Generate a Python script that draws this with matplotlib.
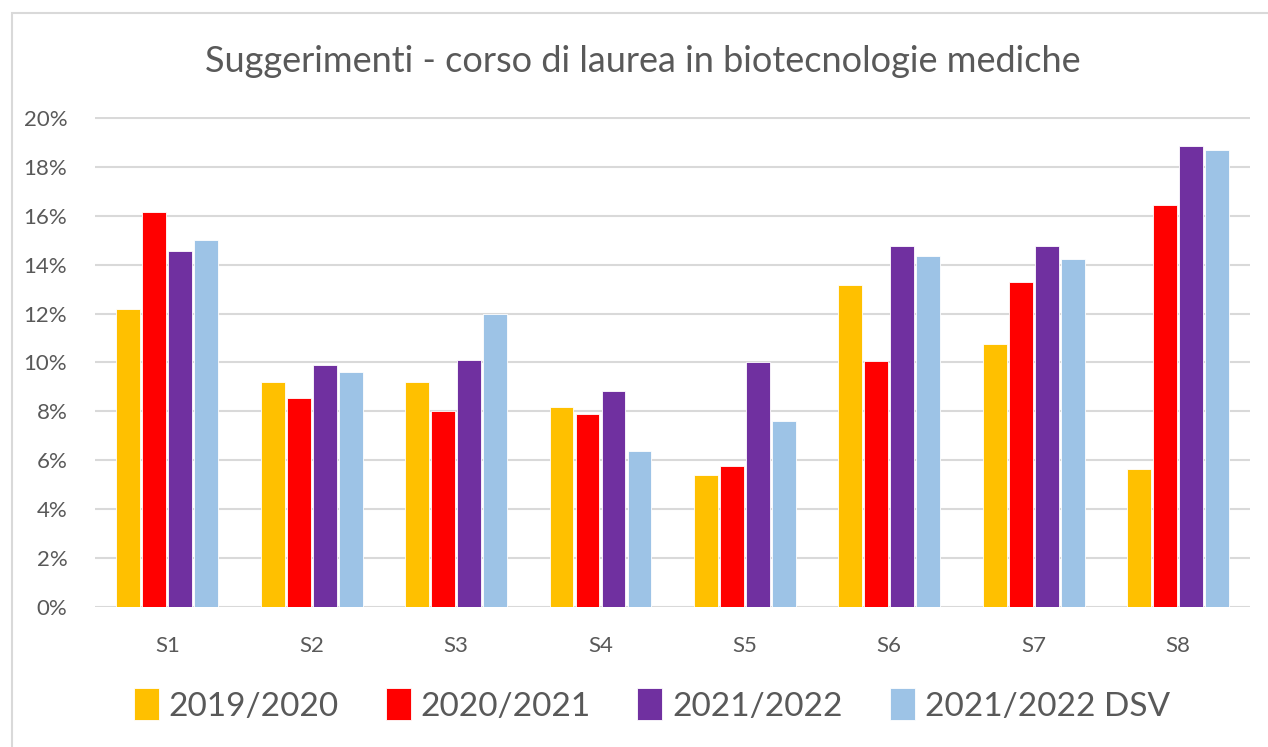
import numpy as np
import matplotlib
matplotlib.use("Agg")
import matplotlib.pyplot as plt
from matplotlib.patches import Rectangle
from matplotlib.ticker import FuncFormatter

plt.rcParams['font.family'] = ['Lato', 'DejaVu Sans']

categories = ["S1", "S2", "S3", "S4", "S5", "S6", "S7", "S8"]
series_names = ["2019/2020", "2020/2021", "2021/2022", "2021/2022 DSV"]

a2019_2020 = [12.2, 9.2, 9.2, 8.2, 5.4, 13.15, 10.75, 5.65]
a2020_2021 = [16.15, 8.55, 8.0, 7.9, 5.75, 10.05, 13.3, 16.45]
a2021_2022 = [14.55, 9.9, 10.1, 8.85, 10.0, 14.75, 14.75, 18.85]
a2021_2022_dsv = [15.0, 9.6, 12.0, 6.4, 7.6, 14.35, 14.25, 18.7]

colors = ["#ffc000", "#ff0000", "#7030a0", "#9dc3e6"]
text_gray = "#595959"
grid_gray = "#d9d9d9"

fig = plt.figure(figsize=(12.68, 7.47), dpi=100)
ax = fig.add_axes([0.075, 0.1874, 0.911, 0.656])

# light frame around the whole chart
fig.patches.append(Rectangle((12 / 1268, -0.01), 1.0, 1 - 13 / 747 + 0.01,
                             transform=fig.transFigure, fill=False,
                             edgecolor="#d9d9d9", linewidth=1.5))

x = np.arange(len(categories))
step = 0.18
width = 0.165
all_series = [a2019_2020, a2020_2021, a2021_2022, a2021_2022_dsv]
for i, (vals, col, name) in enumerate(zip(all_series, colors, series_names)):
    ax.bar(x + (i - 1.5) * step, vals, width, color=col, label=name,
           edgecolor="white", linewidth=0.6, zorder=3)

ax.set_xlim(-0.5, len(categories) - 0.5)
ax.set_ylim(0, 20.04)
ax.set_yticks(np.arange(0, 21, 2))
ax.yaxis.set_major_formatter(FuncFormatter(lambda v, p: f"{v:.0f}%"))
ax.set_xticks(x)
ax.set_xticklabels(categories)
ax.tick_params(axis="both", length=0, colors=text_gray, labelsize=16)
ax.tick_params(axis="x", pad=21)
ax.tick_params(axis="y", pad=20)
ax.grid(axis="y", color=grid_gray, linewidth=1.5, zorder=0)
for s in ax.spines.values():
    s.set_visible(False)

fig.text(0.507, 1 - 62 / 747, "Suggerimenti - corso di laurea in biotecnologie mediche",
         ha="center", va="center", fontsize=26, color=text_gray)

fig.legend(loc="center", bbox_to_anchor=(0.514, 1 - 705 / 747), ncol=4,
           frameon=False, fontsize=24, labelcolor=text_gray,
           handlelength=0.75, handleheight=1.1, handletextpad=0.3,
           columnspacing=1.4)

fig.savefig("out.png", dpi=100)
